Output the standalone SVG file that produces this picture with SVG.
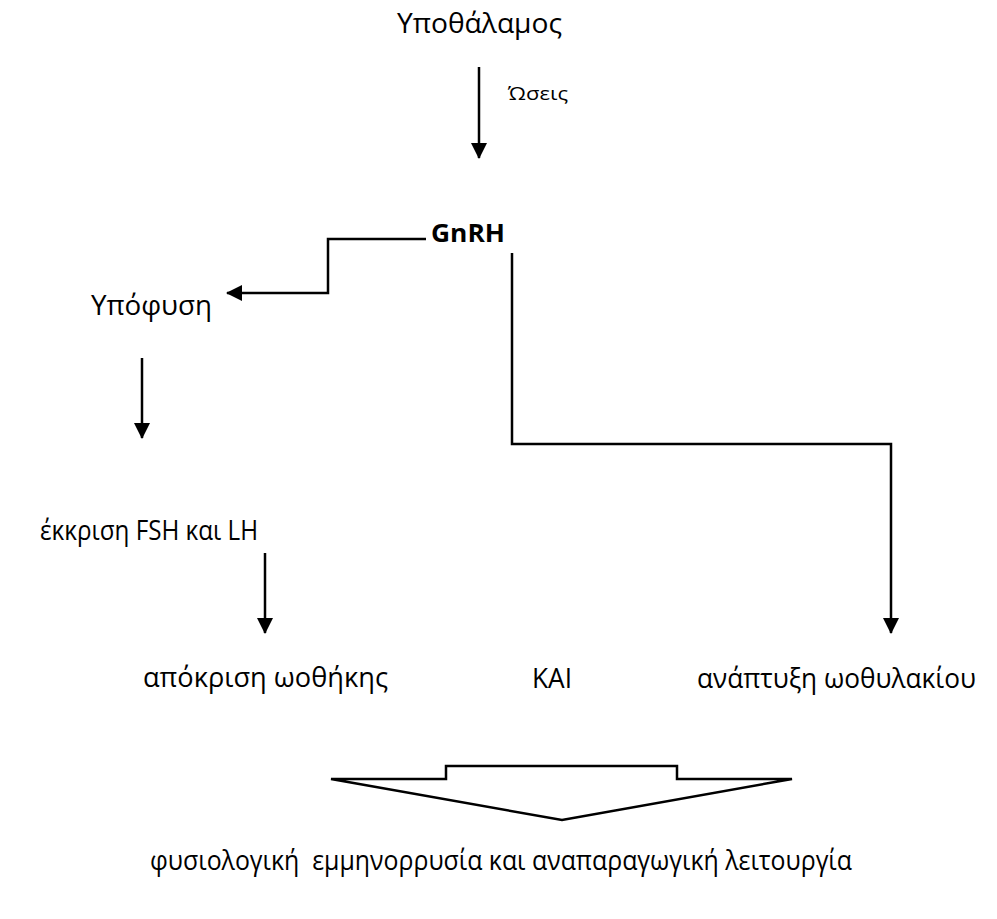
<svg xmlns="http://www.w3.org/2000/svg" width="997" height="919" viewBox="0 0 997 919">
<style>
text{font-family:"Open Sans","Noto Sans","Liberation Sans",sans-serif;fill:#000;}
.t{font-size:27px;}
.s{font-size:18px;}
.b{font-size:25px;font-weight:bold;}
.c{fill:none;stroke:#000;stroke-width:2.5;}
</style>
<defs>
<marker id="ah" markerUnits="userSpaceOnUse" markerWidth="16" markerHeight="16" viewBox="0 0 16 16" refX="15" refY="8" orient="auto">
<path d="M0,0 L16,8 L0,16 Z" fill="#000"/>
</marker>
</defs>
<rect width="997" height="919" fill="#fff"/>
<g id="n-ypothalamos"><text class="t" x="397" y="33" textLength="165" lengthAdjust="spacingAndGlyphs">Υποθάλαμος</text></g>
<g id="n-oseis"><text class="s" x="508" y="100" textLength="60" lengthAdjust="spacingAndGlyphs">Ώσεις</text></g>
<g id="n-gnrh"><text class="b" x="431" y="242" textLength="74" lengthAdjust="spacingAndGlyphs">GnRH</text></g>
<g id="n-ypofysi"><text class="t" x="91" y="315" textLength="121" lengthAdjust="spacingAndGlyphs">Υπόφυση</text></g>
<g id="n-ekkrisi"><text class="t" x="40" y="540" textLength="218" lengthAdjust="spacingAndGlyphs">έκκριση FSH και LH</text></g>
<g id="n-apokrisi"><text class="t" x="143" y="687" textLength="245" lengthAdjust="spacingAndGlyphs">απόκριση ωοθήκης</text></g>
<g id="n-kai"><text class="t" x="532" y="688" textLength="40" lengthAdjust="spacingAndGlyphs">ΚΑΙ</text></g>
<g id="n-anaptyxi"><text class="t" x="697" y="688" textLength="279" lengthAdjust="spacingAndGlyphs">ανάπτυξη ωοθυλακίου</text></g>
<g id="n-result"><text class="t" x="150" y="870" textLength="702" lengthAdjust="spacingAndGlyphs" xml:space="preserve">φυσιολογική  εμμηνορρυσία και αναπαραγωγική λειτουργία</text></g>
<g id="connectors">
<line class="c" x1="479" y1="67" x2="479" y2="158" marker-end="url(#ah)"/>
<polyline class="c" points="426,239 328,239 328,293 227,293" marker-end="url(#ah)"/>
<polyline class="c" points="512,253 512,444 891,444 891,633" marker-end="url(#ah)"/>
<line class="c" x1="142" y1="358" x2="142" y2="438" marker-end="url(#ah)"/>
<line class="c" x1="265" y1="553" x2="265" y2="633" marker-end="url(#ah)"/>
<polygon class="c" points="331,779 446,779 446,766 677,766 677,779 792,779 562,820" stroke-linejoin="miter"/>
</g>
</svg>
